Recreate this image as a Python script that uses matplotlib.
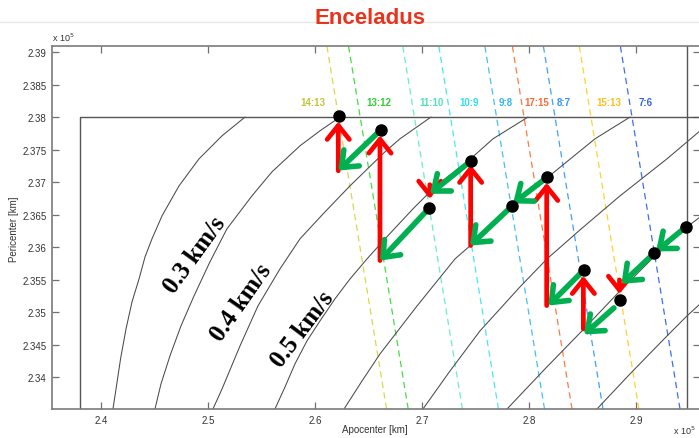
import matplotlib
matplotlib.use('Agg')
import matplotlib.pyplot as plt
from matplotlib.lines import Line2D

# ---------------- data (units: 1e5 km) ----------------
# v-infinity contours (apocenter, pericenter)
c02_ra = [2.5344, 2.5129, 2.4914, 2.4727, 2.4568, 2.4474, 2.4409, 2.4353, 2.4287, 2.4231, 2.4180, 2.4142, 2.4109]
c02_rp = [2.3800, 2.37712, 2.37358, 2.36943, 2.36482, 2.36128, 2.35851, 2.35512, 2.35158, 2.34743, 2.34282, 2.33866, 2.33512]
c03_ra = [2.6232, 2.6045, 2.5858, 2.5596, 2.5409, 2.5175, 2.5016, 2.4867, 2.4745, 2.4642, 2.4558, 2.4502]
c03_rp = [2.3800, 2.37789, 2.37558, 2.37158, 2.36789, 2.36282, 2.35774, 2.35251, 2.34789, 2.34328, 2.33897, 2.33512]
c04_ra = [2.7083, 2.6793, 2.6653, 2.6326, 2.6092, 2.5858, 2.5671, 2.5465, 2.5297, 2.5129, 2.5044]
c04_rp = [2.3800, 2.37666, 2.37466, 2.36943, 2.36543, 2.36128, 2.35666, 2.35097, 2.34482, 2.33820, 2.33512]
c05_ra = [2.7990, 2.7663, 2.7429, 2.7130, 2.6924, 2.6653, 2.6485, 2.6326, 2.6185, 2.6045, 2.5923, 2.5811, 2.5718, 2.5624]
c05_rp = [2.3800, 2.37666, 2.37323, 2.36943, 2.36605, 2.36128, 2.35820, 2.35512, 2.35205, 2.34866, 2.34558, 2.34205, 2.33851, 2.33512]
c06_ra = [2.8944, 2.8617, 2.8177, 2.7840, 2.7448, 2.7308, 2.6953, 2.6606, 2.6438, 2.6270]
c06_rp = [2.3800, 2.37666, 2.37077, 2.36631, 2.36020, 2.35820, 2.35097, 2.34358, 2.33943, 2.33512]
c07_ra = [2.9589, 2.9290, 2.8851, 2.8477, 2.8168, 2.7915, 2.7541, 2.7261, 2.7008]
c07_rp = [2.37774, 2.37358, 2.36789, 2.36266, 2.35820, 2.35389, 2.34712, 2.34097, 2.33512]
c08_ra = [2.9589, 2.9467, 2.9168, 2.8851, 2.8504, 2.8149, 2.7794]
c08_rp = [2.36451, 2.36297, 2.35851, 2.35328, 2.34728, 2.34128, 2.33512]
c09_ra = [2.9589, 2.9477, 2.9290, 2.8944, 2.8635]
c09_rp = [2.35112, 2.34943, 2.34635, 2.34051, 2.33512]
contours = [(c02_ra, c02_rp), (c03_ra, c03_rp), (c04_ra, c04_rp), (c05_ra, c05_rp),
            (c06_ra, c06_rp), (c07_ra, c07_rp), (c08_ra, c08_rp), (c09_ra, c09_rp)]

# contour labels
vinf_labels = ['0.3 km/s', '0.4 km/s', '0.5 km/s']
vinf_label_ra = [2.4872, 2.5304, 2.5880]
vinf_label_rp = [2.35897, 2.35154, 2.34743]
vinf_label_rot = [54, 55, 53]

# resonances: apocenter where each resonance line crosses pericenter = 2.38
res_labels = ['14:13', '13:12', '11:10', '10:9', '9:8', '17:15', '8:7', '15:13', '7:6']
res_ra_at_238 = [2.6219, 2.6421, 2.6928, 2.7265, 2.7696, 2.7953, 2.8243, 2.8579, 2.8963]
res_label_ra = [2.5979, 2.6596, 2.7092, 2.7438, 2.7784, 2.8074, 2.8327, 2.8748, 2.9094]
res_label_rp = 2.38235
res_line_colors = ['#d8d84a', '#44dd44', '#66eec8', '#44e8f0', '#44c0f0', '#ff7a40', '#40a0ff', '#ffd030', '#3a6ef0']
res_text_colors = ['#c4c43a', '#33cc33', '#55e0bb', '#33dcee', '#33b4ee', '#ff6a30', '#3394f5', '#f8c020', '#2f62e8']

# boundary lines
box_ra = 2.38
box_rp = 2.38
right_line_ra = 2.9478

# tour points (black dots)
dot_ra = [2.6223, 2.6615, 2.7454, 2.7069, 2.8172, 2.7838, 2.8514, 2.8850, 2.9173, 2.9468]
dot_rp = [2.3802, 2.37805, 2.37323, 2.36605, 2.37077, 2.36628, 2.35651, 2.35189, 2.35912, 2.36312]

# red arrows (manoeuvres): ra, rp from, rp to
red_ra = [2.6216, 2.6606, 2.7454, 2.8165, 2.8508, 2.7072, 2.8846]
red_rp0 = [2.37174, 2.35794, 2.36025, 2.35102, 2.34743, 2.36960, 2.35497]
red_rp1 = [2.37928, 2.37717, 2.37266, 2.36989, 2.35558, 2.36743, 2.35282]

# green arrows (flybys): from (ra0, rp0) to (ra1, rp1)
grn_ra0 = [2.6615, 2.7454, 2.7069, 2.7838, 2.8172, 2.8514, 2.8794, 2.9468, 2.9173]
grn_rp0 = [2.37805, 2.37323, 2.36605, 2.36628, 2.37077, 2.35651, 2.35066, 2.36312, 2.35912]
grn_ra1 = [2.6216, 2.7074, 2.6606, 2.7448, 2.7850, 2.8180, 2.8514, 2.9187, 2.8864]
grn_rp1 = [2.37178, 2.36820, 2.35794, 2.36025, 2.36672, 2.35102, 2.34658, 2.35935, 2.35436]

x_ticks = [2.4, 2.5, 2.6, 2.7, 2.8, 2.9]
x_ticklabels = ['2.4', '2.5', '2.6', '2.7', '2.8', '2.9']
y_ticks = [2.34, 2.345, 2.35, 2.355, 2.36, 2.365, 2.37, 2.375, 2.38, 2.385, 2.39]
y_ticklabels = ['2.34', '2.345', '2.35', '2.355', '2.36', '2.365', '2.37', '2.375', '2.38', '2.385', '2.39']

# ---------------- figure ----------------
W, H = 699, 439
fig = plt.figure(figsize=(W / 100, H / 100), dpi=100)
fig.patch.set_facecolor('white')
plt.rcParams['font.family'] = ['Liberation Sans', 'DejaVu Sans']

ax = fig.add_axes([52 / W, (H - 410) / H, (699.5 - 52) / W, (410 - 47.3) / H])
XLIM = (2.3539, 2.9594)
YLIM = (2.33512, 2.39088)
ax.set_xlim(*XLIM)
ax.set_ylim(*YLIM)

# resonance lines (pericenter + apocenter constant)
for s, c in zip(res_ra_at_238, res_line_colors):
    tot = s + box_rp
    ax.plot([tot - YLIM[0], tot - YLIM[1]], [YLIM[0], YLIM[1]], color=c, lw=0.9,
            linestyle=(0, (5, 3.5)), zorder=1)
for lab, lx, c in zip(res_labels, res_label_ra, res_text_colors):
    ax.text(lx, res_label_rp, lab, color=c, fontsize=7, fontweight='bold',
            ha='center', va='center', zorder=5)

# v-infinity contours
for ra, rp in contours:
    ax.plot(ra, rp, color='#4a4a4a', lw=0.75, zorder=2, solid_joinstyle='round')

for lab, lx, ly, rot in zip(vinf_labels, vinf_label_ra, vinf_label_rp, vinf_label_rot):
    ax.text(lx, ly, lab, rotation=rot, rotation_mode='anchor', ha='center', va='center',
            fontsize=18, fontweight='bold', family='Liberation Serif', color='black', zorder=5)

# boundary box
ax.plot([box_ra, box_ra, XLIM[1]], [YLIM[0], box_rp, box_rp], color='#555555', lw=1.0, zorder=2)
ax.plot([right_line_ra, right_line_ra], [YLIM[0], YLIM[1]], color='#555555', lw=1.0, zorder=2)

# arrows
head = '->,head_length=0.5,head_width=0.4'
for x, y0, y1 in zip(red_ra, red_rp0, red_rp1):
    ax.annotate('', xy=(x, y1), xytext=(x, y0),
                arrowprops=dict(arrowstyle=head, color='#ff0000', lw=3.4,
                                shrinkA=0, shrinkB=0, mutation_scale=20), zorder=3)
for x0, y0, x1, y1 in zip(grn_ra0, grn_rp0, grn_ra1, grn_rp1):
    ax.annotate('', xy=(x1, y1), xytext=(x0, y0),
                arrowprops=dict(arrowstyle=head, color='#00b050', lw=4.0,
                                shrinkA=0, shrinkB=0, mutation_scale=20), zorder=3)

ax.plot(dot_ra, dot_rp, 'o', color='black', markersize=8, zorder=6, clip_on=False)

# axes style
ax.set_xticks(x_ticks)
ax.set_xticklabels(x_ticklabels)
ax.set_yticks(y_ticks)
ax.set_yticklabels(y_ticklabels)
ax.tick_params(direction='in', length=5, width=0.9, color='#707070', top=True, right=True,
               labelsize=7, labelcolor='#333333', pad=4)
for sp in ax.spines.values():
    sp.set_color('#7a7a7a')
    sp.set_linewidth(1.2)

# texts outside the axes
fig.text(375 / W, 1 - 430 / H, 'Apocenter [km]', fontsize=7, color='#333333', ha='center', va='center')
fig.text(14 / W, 1 - 229 / H, 'Pericenter [km]', fontsize=7, color='#333333', ha='center', va='center',
         rotation=90)
fig.text(52 / W, 1 - 38 / H, r'x 10$^{5}$', fontsize=6.5, color='#333333', ha='left', va='center')
fig.text(696 / W, 1 - 431 / H, r'x 10$^{5}$', fontsize=6.5, color='#333333', ha='right', va='center')

# slide header
fig.add_artist(Line2D([0, 1], [1 - 22.7 / H, 1 - 22.7 / H], transform=fig.transFigure,
                      color='#e6e6e6', lw=1.0, zorder=0))
fig.text(370 / W, 1 - 18 / H, 'Enceladus', color='#e8341c', fontsize=16, fontweight='bold',
         ha='center', va='center', zorder=5)

fig.savefig('out.png', dpi=100, facecolor='white')
